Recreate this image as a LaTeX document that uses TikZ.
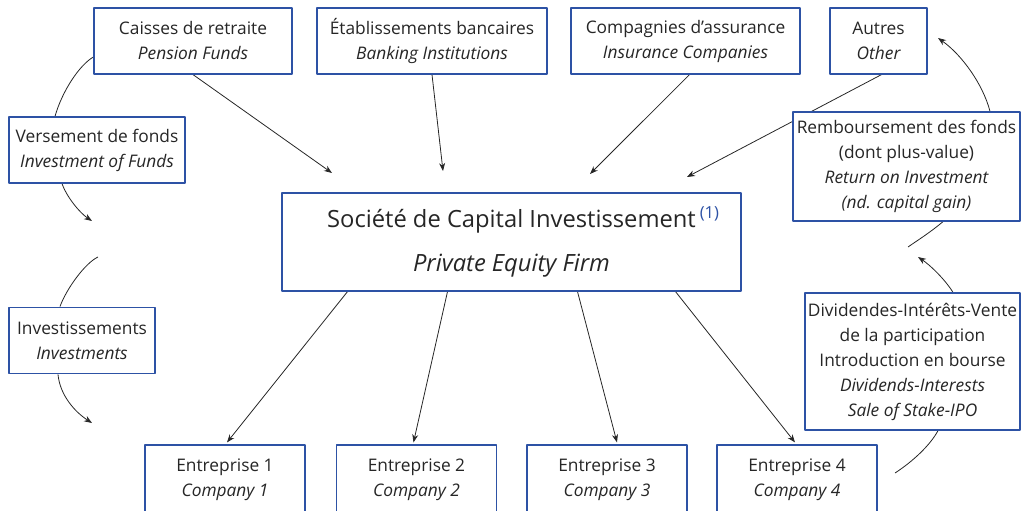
\documentclass[tikz,border=0pt]{standalone}
\usepackage{fontspec}
\setmainfont{Open Sans}
\usepackage{xcolor}
\usepackage{tikz}
\usetikzlibrary{arrows.meta,calc}
\definecolor{boxblue}{RGB}{45,82,165}
\definecolor{inkgray}{RGB}{38,38,38}
\pgfdeclarelayer{bg}
\pgfsetlayers{bg,main}

\begin{document}
\begin{tikzpicture}[x=0.75pt,y=-0.75pt,>={Stealth[length=6pt,width=4.5pt]},line join=round,
  fbox/.style={draw=boxblue,line width=0.9pt,fill=white,align=center,inner sep=0pt,
    text=inkgray,font=\fontsize{13}{18.75}\selectfont},
  flow/.style={->,line width=0.6pt,draw=inkgray},
  link/.style={line width=0.6pt,draw=inkgray}]
  \useasboundingbox (0,0) rectangle (1023,510);
  % free ends
  \coordinate (tipCai) at (332,173);
  \coordinate (tipBan) at (443,171);
  \coordinate (tipAss) at (590,174);
  \coordinate (tipAut) at (687,177);
  \coordinate (tipVer) at (92,221);
  \coordinate (topInv) at (98,257);
  \coordinate (tipInv) at (92,423);
  \coordinate (tipRem) at (938,38);
  \coordinate (endRem) at (908,247);
  \coordinate (tipDiv) at (918,257);
  \coordinate (botDiv) at (895,473);
  % boxes
  \node[fbox,minimum width=148.5pt,minimum height=49.5pt] (caisses) at (193,41)
    {Caisses de retraite\\\itshape Pension Funds};
  \node[fbox,minimum width=172.5pt,minimum height=49.5pt] (banques) at (432,41)
    {Établissements bancaires\\\itshape Banking Institutions};
  \node[fbox,minimum width=171.75pt,minimum height=49.5pt] (assurance) at (685.5,41)
    {Compagnies d’assurance\\\itshape Insurance Companies};
  \node[fbox,minimum width=72.75pt,minimum height=49.5pt] (autres) at (878.5,41)
    {Autres\\\itshape Other};
  \node[fbox,minimum width=132pt,minimum height=49.5pt] (versement) at (97,150)
    {Versement de fonds\\\itshape Investment of Funds};
  \node[fbox,minimum width=109.5pt,minimum height=50pt] (investis) at (82,340.5)
    {Investissements\\\itshape Investments};
  \node[fbox,minimum width=344.25pt,minimum height=73.5pt,font=\fontsize{17.8}{33}\selectfont] (pef) at (511.5,242)
    {Société de Capital Investissement\rlap{\,\textsuperscript{\color{boxblue}(1)}}\\\itshape Private Equity Firm};
  \node[fbox,minimum width=170.25pt,minimum height=81.75pt] (rembours) at (906.5,166.5)
    {Remboursement des fonds\\(dont plus-value)\\\itshape Return on Investment\\\itshape (nd. capital gain)};
  \node[fbox,minimum width=161.25pt,minimum height=102.75pt] (dividendes) at (912.5,361.5)
    {Dividendes-Intérêts-Vente\\de la participation\\Introduction en bourse\\\itshape Dividends-Interests\\\itshape Sale of Stake-IPO};
  \node[fbox,minimum width=120pt,minimum height=52.5pt] (ent1) at (225,480)
    {Entreprise 1\\\itshape Company 1};
  \node[fbox,minimum width=120pt,minimum height=52.5pt] (ent2) at (416.5,480)
    {Entreprise 2\\\itshape Company 2};
  \node[fbox,minimum width=120pt,minimum height=52.5pt] (ent3) at (607,480)
    {Entreprise 3\\\itshape Company 3};
  \node[fbox,minimum width=120pt,minimum height=52.5pt] (ent4) at (797,480)
    {Entreprise 4\\\itshape Company 4};
  \begin{pgfonlayer}{bg}
    % contributors
    \draw[flow] (caisses.south) -- (tipCai);
    \draw[flow] (banques.south) -- (tipBan);
    \draw[flow] ($(assurance.south)+(4,0)$) -- (tipAss);
    \draw[flow] ($(autres.south)+(3,0)$) -- (tipAut);
    % investments
    \draw[flow] ($(pef.south)+(-164,0)$) -- ($(ent1.north)+(2,-2)$);
    \draw[flow] ($(pef.south)+(-64,0)$) -- ($(ent2.north)+(-3,-2)$);
    \draw[flow] ($(pef.south)+(66,0)$) -- ($(ent3.north)+(10,-2)$);
    \draw[flow] ($(pef.south)+(164,0)$) -- ($(ent4.north)+(-2,-2)$);
    % left cycle
    \draw[link] ($(caisses.west)+(0,16)$) .. controls +(-14,8) and +(7,-25) .. ($(versement.north)+(-42,0)$);
    \draw[flow] ($(versement.south)+(-35,0)$) .. controls +(5,14) and +(-12,-8) .. (tipVer);
    \draw[link] (topInv) .. controls +(-13,6) and +(6,-17) .. ($(investis.north)+(-22,0)$);
    \draw[flow] ($(investis.south)+(-24,0)$) .. controls +(2,21) and +(-17,-11) .. (tipInv);
    % right cycle
    \draw[flow] ($(rembours.north)+(83.5,0)$) .. controls +(-7,-27) and +(24,17) .. (tipRem);
    \draw[link] ($(rembours.south)+(36.5,0)$) .. controls +(-13,11) and +(10,-7) .. (endRem);
    \draw[flow] ($(dividendes.north)+(40.5,0)$) .. controls +(-8,-13) and +(12,8) .. (tipDiv);
    \draw[link] (botDiv) .. controls +(17,-11) and +(-8,15) .. ($(dividendes.south)+(25.5,0)$);
  \end{pgfonlayer}
\end{tikzpicture}
\end{document}
